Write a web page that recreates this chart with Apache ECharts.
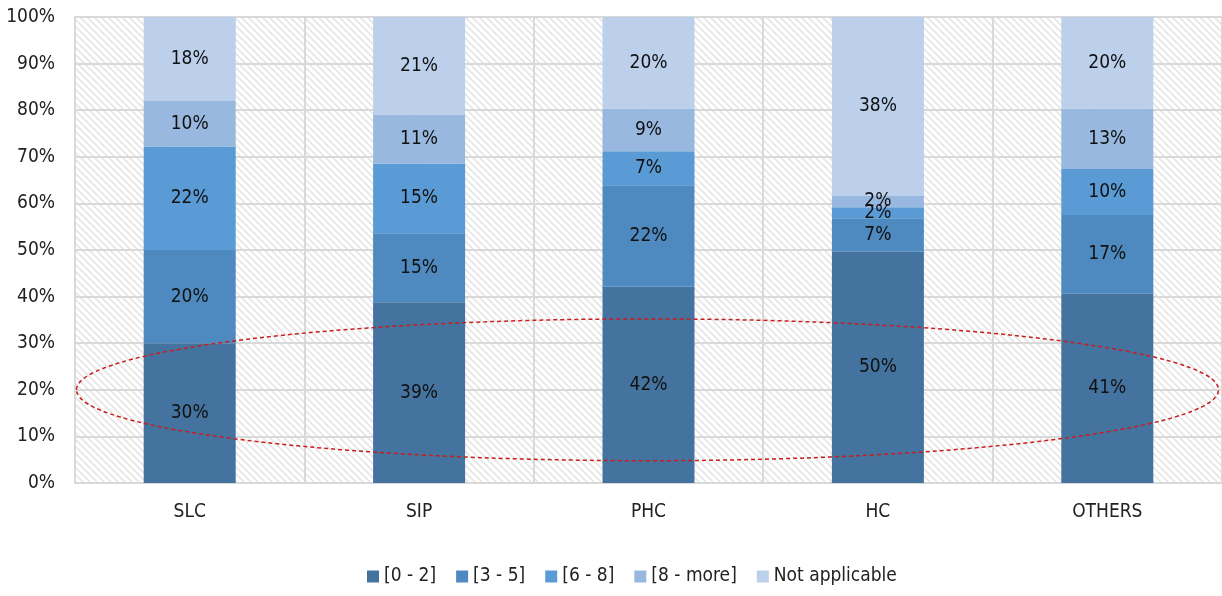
<!DOCTYPE html>
<html lang="en">
  <head>
    <meta charset="utf-8" />
    <title>Stacked shares by category</title>
    <script src="https://cdn.jsdelivr.net/npm/echarts@6/dist/echarts.min.js"></script>
  </head>
  <style>
    * {
      margin: 0;
      padding: 0;
    }

    body {
      width: 1222px;
      height: 596px;
      background: #fff;
    }

    #main {
      width: 1222px;
      height: 596px;
    }
  </style>
  <body>
    <div id="main"></div>
    <script>
      const categories = ["SLC", "SIP", "PHC", "HC", "OTHERS"];
      const seriesNames = ["[0 - 2]", "[3 - 5]", "[6 - 8]", "[8 - more]", "Not applicable"];
      // shares in % (labels are rounded)
      const range0to2 = [30, 38.8, 42.1, 49.6, 40.6];
      const range3to5 = [20, 14.8, 21.8, 7.2, 16.9];
      const range6to8 = [22.2, 14.9, 7.3, 2.4, 9.9];
      const range8more = [9.8, 10.6, 9.1, 2.4, 12.9];
      const notApplicable = [18, 20.9, 19.7, 38.4, 19.7];
      const colors = ["#44739f", "#4e89bf", "#5a9bd5", "#98b8df", "#bccfeb"];

      const font = '"DejaVu Sans Condensed", "Liberation Sans Narrow", sans-serif';

      // diagonal hatch for the plot background
      function makeHatch() {
        const s = 7;
        const c = document.createElement("canvas");
        c.width = s;
        c.height = s;
        const ctx = c.getContext("2d");
        ctx.fillStyle = "#ffffff";
        ctx.fillRect(0, 0, s, s);
        ctx.strokeStyle = "#e2e2e2";
        ctx.lineWidth = 1.5;
        ctx.beginPath();
        ctx.moveTo(-1, -1);
        ctx.lineTo(s + 1, s + 1);
        ctx.moveTo(-s - 1, -1);
        ctx.lineTo(1, s + 1);
        ctx.moveTo(s - 1, -1);
        ctx.lineTo(2 * s + 1, s + 1);
        ctx.stroke();
        return c;
      }

      const chart = echarts.init(document.getElementById("main"));
      const allValues = [range0to2, range3to5, range6to8, range8more, notApplicable];

      const option = {
        animation: false,
        textStyle: { fontFamily: font },
        grid: {
          left: 75,
          right: 0,
          top: 17,
          bottom: 113,
          show: true,
          borderWidth: 0,
          backgroundColor: { image: makeHatch(), repeat: "repeat" },
        },
        legend: {
          bottom: 5,
          left: 362,
          itemWidth: 12,
          itemHeight: 12,
          itemGap: 20,
          icon: "rect",
          textStyle: { fontSize: 19, color: "#222", fontFamily: font },
          data: seriesNames,
        },
        xAxis: {
          type: "category",
          data: categories,
          axisTick: { show: false },
          axisLine: { show: true, lineStyle: { color: "#d9d9d9", width: 2 } },
          splitLine: { show: true, lineStyle: { color: "#d9d9d9", width: 2 } },
          axisLabel: { fontSize: 19, color: "#222", margin: 20, fontFamily: font },
        },
        yAxis: {
          type: "value",
          min: 0,
          max: 100,
          interval: 10,
          axisLine: { show: true, lineStyle: { color: "#d9d9d9", width: 2 } },
          axisTick: { show: false },
          splitLine: { lineStyle: { color: "#d9d9d9", width: 2 } },
          axisLabel: {
            formatter: "{value}%",
            fontSize: 19,
            color: "#222",
            margin: 20,
            fontFamily: font,
          },
        },
        series: seriesNames.map((name, i) => ({
          name: name,
          type: "bar",
          stack: "total",
          barWidth: 92,
          itemStyle: { color: colors[i] },
          label: {
            show: true,
            position: "inside",
            formatter: (p) => Math.round(p.value) + "%",
            fontSize: 19,
            color: "#111",
            fontFamily: font,
          },
          data: allValues[i],
        })),
      };

      chart.setOption(option);

      // red dashed ellipse round the [0 - 2] band
      const centrePx = chart.convertToPixel({ gridIndex: 0 }, ["PHC", 20]);
      const upperPx = chart.convertToPixel({ gridIndex: 0 }, ["PHC", 35]);
      chart.setOption({
        graphic: [
          {
            type: "ellipse",
            shape: { cx: centrePx[0] - 1, cy: centrePx[1], rx: 571, ry: centrePx[1] - upperPx[1] + 1 },
            style: { fill: "none", stroke: "#c81e1e", lineWidth: 1.5, lineDash: [4, 3] },
            silent: true,
            z: 100,
          },
        ],
      });
    </script>
  </body>
</html>
